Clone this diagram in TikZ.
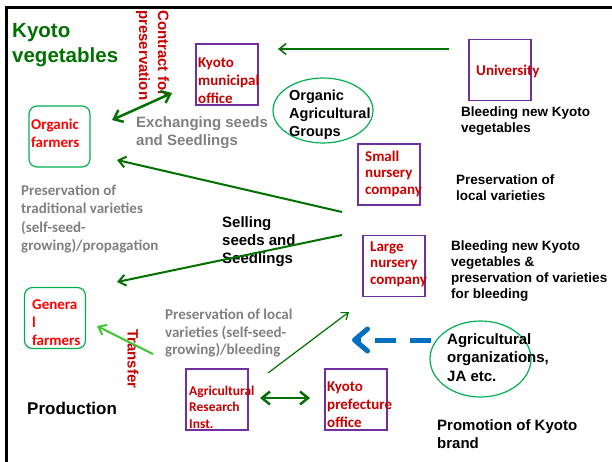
\documentclass[tikz,border=0pt]{standalone}
\usepackage{fontspec}
\setmainfont{Liberation Sans}
\newfontfamily\calibri{Carlito}
\usetikzlibrary{arrows.meta,shapes.geometric}

\definecolor{kgreen}{RGB}{0,112,0}
\definecolor{kred}{RGB}{200,0,0}
\definecolor{kpurple}{RGB}{112,48,160}
\definecolor{kmint}{RGB}{0,176,80}
\definecolor{klime}{RGB}{60,200,50}
\definecolor{kblue}{RGB}{0,112,192}
\definecolor{kgray}{RGB}{128,128,128}

\tikzset{
  pbox/.style={draw=kpurple, line width=1.5pt, minimum width=62pt, minimum height=61pt, inner sep=0pt},
  gbox/.style={draw=kmint, line width=1.2pt, rounded corners=8pt, minimum width=61pt, minimum height=61pt, inner sep=0pt},
  oval/.style={ellipse, draw=kmint, line width=1.2pt, inner sep=0pt},
  txt/.style={anchor=west, align=left, inner sep=0pt},
  blk/.style={txt, font=\bfseries\fontsize{13.5}{16}\selectfont},
  blkbig/.style={txt, font=\bfseries\fontsize{15}{18.5}\selectfont},
  redtxt/.style={txt, text=kred, font=\calibri\bfseries\fontsize{15}{18}\selectfont},
  grytxt/.style={txt, text=kgray, font=\calibri\bfseries\fontsize{15}{18}\selectfont},
  redrot/.style={txt, rotate=-90, text=kred, font=\bfseries\fontsize{15}{19}\selectfont},
  arr/.style={->, draw=kgreen},
}

\begin{document}
\begin{tikzpicture}[x=1pt, y=-1pt, >={Straight Barb[length=7pt,width=11pt]}]
    \useasboundingbox (0,0) rectangle (612,461);

    % ramecek
    \draw[line width=3pt] (6,465) -- (6,7) -- (615,7);

    % nadpisy
    \node[txt, text=kgreen, font=\bfseries\fontsize{20.5}{25}\selectfont] (title) at (12,45) {Kyoto\\vegetables};
    \node[txt, font=\bfseries\fontsize{17}{20}\selectfont] (production) at (27,408) {Production};
    \node[redrot] (contract) at (152.5,10) {Contract for\\preservation};
    \node[redrot] (transfer) at (133,329) {Transfer};

    % instituce (fialove ramecky)
    \node[pbox] (mun) at (227,74.5) {};
    \node[redtxt] (munlbl) at (198,81) {Kyoto\\municipal\\office};
    \node[pbox] (uni) at (500,70) {};
    \node[redtxt] (unilbl) at (476,71) {University};
    \node[pbox] (small) at (389,174.5) {};
    \node[redtxt, font=\calibri\bfseries\fontsize{15}{16.5}\selectfont] (smalllbl) at (365,173.5) {Small\\nursery\\company};
    \node[pbox] (large) at (394,266) {};
    \node[redtxt, font=\calibri\bfseries\fontsize{15}{16.5}\selectfont] (largelbl) at (370,264) {Large\\nursery\\company};
    \node[pbox] (ari) at (217,399.5) {};
    \node[redtxt, font=\calibri\bfseries\fontsize{13.5}{16.5}\selectfont] (arilbl) at (189,407) {Agricultural\\Research\\Inst.};
    \node[pbox] (pref) at (356,399.5) {};
    \node[redtxt] (preflbl) at (327,405) {Kyoto\\prefecture\\office};

    % zemedelci (zelene ramecky)
    \node[gbox] (ofarm) at (59.5,136.5) {};
    \node[redtxt, text=red] (ofarmlbl) at (31,133) {Organic\\farmers};
    \node[gbox] (gfarm) at (55,318) {};
    \node[redtxt, text=red] (gfarmlbl) at (32,323) {Genera\\l\\farmers};

    % skupiny (elipsy)
    \node[oval, minimum width=100pt, minimum height=65pt] (org) at (323,110.5) {};
    \node[blkbig, font=\bfseries\fontsize{14.5}{18}\selectfont] (orglbl) at (289,115) {Organic\\Agricultural\\Groups};
    \node[oval, minimum width=101pt, minimum height=76pt] (agri) at (480.5,359) {};
    \node[blkbig] (agrilbl) at (447,357.5) {Agricultural\\organizations,\\JA etc.};

    % popisky
    \node[blk] (bleedA) at (461,121) {Bleeding new Kyoto\\vegetables};
    \node[blk] (presloc) at (456,188) {Preservation of\\local varieties};
    \node[blk] (bleedB) at (451,271.5) {Bleeding new Kyoto\\vegetables \&\\preservation of varieties\\for bleeding};
    \node[blkbig, font=\bfseries\fontsize{15}{18}\selectfont] (selling) at (222,242) {Selling\\seeds and\\Seedlings};
    \node[blkbig, font=\bfseries\fontsize{15}{18}\selectfont] (promo) at (437,434) {Promotion of Kyoto\\brand};
    \node[txt, text=kgray, font=\bfseries\fontsize{15}{18}\selectfont] (exch) at (136,133) {Exchanging seeds\\and Seedlings};
    \node[grytxt, font=\calibri\bfseries\fontsize{15}{18.5}\selectfont] (prestrad) at (21,219) {Preservation of\\traditional varieties\\(self-seed-\\growing)/propagation};
    \node[grytxt, font=\calibri\bfseries\fontsize{15}{17.5}\selectfont] (presvar) at (165,333) {Preservation of local\\varieties (self-seed-\\growing)/bleeding};

    % koncove body sipek
    \coordinate (uniS) at (449,49);
    \coordinate (uniE) at (278,49);
    \coordinate (ofA) at (112,120);
    \coordinate (munA) at (172,93);
    \coordinate (smallS) at (342,212);
    \coordinate (ofB) at (117,160);
    \coordinate (largeS) at (342,235);
    \coordinate (gfB) at (117,282);
    \coordinate (trS) at (153,354);
    \coordinate (trE) at (97,326);
    \coordinate (ariS) at (268,373);
    \coordinate (largeE) at (349,312);
    \coordinate (ariB) at (260,398);
    \coordinate (prefB) at (310,398);
    \coordinate (agriS) at (431,340);
    \coordinate (agriE) at (352,340);

    % sipky
    \draw[arr, line width=1.5pt] (uniS) -- (uniE);
    \draw[<->, draw=kgreen, line width=2.5pt, >={Straight Barb[length=8pt,width=13pt]}] (ofA) -- (munA);
    \draw[arr, line width=2pt] (smallS) -- (ofB);
    \draw[arr, line width=2pt] (largeS) -- (gfB);
    \draw[->, draw=klime, line width=2pt] (trS) -- (trE);
    \draw[arr, line width=1.2pt, >={Straight Barb[length=6pt,width=9pt]}] (ariS) -- (largeE);
    \draw[<->, draw=kgreen, line width=2.5pt, >={Straight Barb[length=8pt,width=13pt]}] (ariB) -- (prefB);
    \draw[->, draw=kblue, line width=5pt, dash pattern=on 21pt off 14pt,
          >={Straight Barb[length=13pt,width=22pt,round]}] (agriS) -- (agriE);

\end{tikzpicture}
\end{document}
